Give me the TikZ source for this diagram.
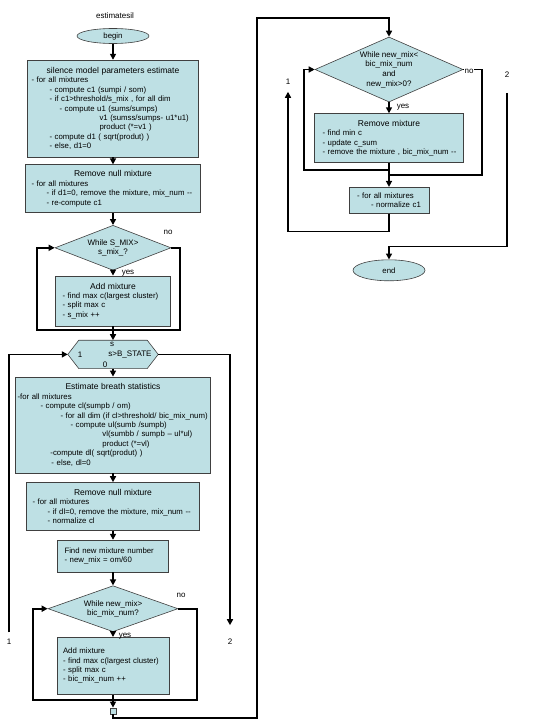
\documentclass[tikz,border=0pt]{standalone}
\usepackage{fontspec}
\setmainfont{Liberation Sans}
\usetikzlibrary{positioning,arrows.meta,shapes.geometric,calc}
\definecolor{BoxFill}{RGB}{190,224,228}
\definecolor{BoxLine}{RGB}{64,64,64}
\newcommand{\boxtitle}[1]{\makebox[\linewidth][c]{\fontsize{8.5}{9.4}\selectfont #1}}
\newcommand{\indentby}[1]{\hspace*{#1pt}}

\begin{document}
\begin{tikzpicture}[x=1pt, y=-1pt,
    every node/.style={font=\fontsize{7.8}{9.4}\selectfont},
    box/.style={rectangle, draw=BoxLine, fill=BoxFill, line width=0.6pt,
                inner sep=0pt, align=left},
    term/.style={ellipse, draw=BoxLine, fill=BoxFill, line width=0.6pt,
                 minimum width=72pt, inner sep=0pt},
    dia/.style={diamond, draw=BoxLine, fill=BoxFill, line width=0.6pt,
                inner sep=0pt, align=center, font=\fontsize{8}{9.6}\selectfont},
    hexline/.style={draw=BoxLine, fill=BoxFill, line width=0.6pt},
    lbl/.style={inner sep=0pt, font=\fontsize{8}{9.4}\selectfont},
    link/.style={line width=1.8pt},
    flow/.style={link, -{Triangle[length=6pt, width=6pt]}}
]
    \useasboundingbox (0,0) rectangle (540,720);

    % left column
    \node[lbl] (title) at (115,16) {estimatesil};
    \node[term, minimum height=15pt] (begin) at (113,36) {begin};
    \node[box, text width=171pt, minimum height=97pt, below=16pt of begin] (silence) {%
        \boxtitle{silence model parameters estimate}\\
        \indentby{4}- for all mixtures\\
        \indentby{22}- compute c1 (sumpi / som)\\
        \indentby{22}- if c1>threshold/s\_mix , for all dim\\
        \indentby{32}- compute u1 (sums/sumps)\\
        \indentby{72}v1 (sumss/sumps- u1*u1)\\
        \indentby{72}product (*=v1 )\\
        \indentby{22}- compute d1 ( sqrt(produt) )\\
        \indentby{22}- else, d1=0};
    \node[box, text width=175pt, minimum height=48pt, below=7pt of silence] (null1) {%
        \boxtitle{Remove null mixture}\\
        \indentby{6}- for all mixtures\\
        \indentby{21}- if d1=0, remove the mixture, mix\_num -{}-\\
        \indentby{21}- re-compute c1};
    \node[dia, aspect=2.58, minimum width=116pt, minimum height=45pt, below=12pt of null1] (smix) {While S\_MIX>\\s\_mix\_?};
    \node[box, text width=115pt, minimum height=50pt, below=5pt of smix] (add1) {%
        \boxtitle{Add mixture}\\
        \indentby{7}- find max c(largest cluster)\\
        \indentby{7}- split max c\\
        \indentby{7}- s\_mix ++};
    \node[minimum width=90pt, minimum height=28pt, inner sep=0pt, below=14pt of add1] (state) {};
    \node[box, text width=195pt, minimum height=96pt, below=8pt of state] (breath) {%
        \boxtitle{Estimate breath statistics}\\
        \indentby{2}-for all mixtures\\
        \indentby{25}- compute cl(sumpb / om)\\
        \indentby{45}- for all dim (if cl>threshold/ bic\_mix\_num)\\
        \indentby{55}- compute ul(sumb /sumpb)\\
        \indentby{87}vl(sumbb / sumpb – ul*ul)\\
        \indentby{87}product (*=vl)\\
        \indentby{35}-compute dl( sqrt(produt) )\\
        \indentby{36}- else, dl=0};
    \node[box, text width=173pt, minimum height=48pt, below=9pt of breath] (null2) {%
        \boxtitle{Remove null mixture}\\
        \indentby{6}- for all mixtures\\
        \indentby{21}- if dl=0, remove the mixture, mix\_num -{}-\\
        \indentby{21}- normalize cl};
    \node[box, text width=111pt, minimum height=32pt, below=9pt of null2] (findnew) {%
        \indentby{7}Find new mixture number\\
        \indentby{7}- new\_mix = om/60};
    \node[dia, aspect=2.83, minimum width=130pt, minimum height=46pt, below=13pt of findnew] (newmix) {While new\_mix>\\bic\_mix\_num?};
    \node[box, text width=112pt, minimum height=57pt, below=5pt of newmix] (add2) {%
        \indentby{6}Add mixture\\
        \indentby{6}- find max c(largest cluster)\\
        \indentby{6}- split max c\\
        \indentby{6}- bic\_mix\_num ++};
    \node[box, minimum width=6pt, minimum height=6pt, below=13pt of add2] (sq) {};

    % hexagon s>B_STATE
    \draw[hexline] (state.west) -- ([xshift=11pt]state.north west)
        -- ([xshift=-11pt]state.north east) -- (state.east)
        -- ([xshift=-11pt]state.south east) -- ([xshift=11pt]state.south west) -- cycle;
    \node[lbl] (hs) at ($(state.center)+(-1,-10.5)$) {s};
    \node[lbl] (hone) at ($(state.center)+(-33,0)$) {1};
    \node[lbl] (htest) at ($(state.center)+(17,0)$) {s>B\_STATE};
    \node[lbl] (hzero) at ($(state.center)+(-8,10.5)$) {0};

    % right column
    \node[dia, aspect=2.28, minimum width=148pt, minimum height=65pt] (bicmix) at (389,69.5)
        {While new\_mix<\\bic\_mix\_num\\and\\new\_mix>0?};
    \node[box, text width=149pt, minimum height=49pt, below=11pt of bicmix] (remove) {%
        \boxtitle{Remove mixture}\\
        \indentby{8}- find min c\\
        \indentby{8}- update c\_sum\\
        \indentby{8}- remove the mixture , bic\_mix\_num -{}-};
    \node[box, text width=80pt, minimum height=26pt, below=24pt of remove] (norm) {%
        \indentby{8}- for all mixtures\\
        \indentby{22}- normalize c1};
    \node[term, minimum height=21pt, below=46pt of norm] (endn) {end};

    % off-page connectors
    \node[lbl, outer ysep=7pt] (off1) at (288,82) {1};
    \node[lbl, outer ysep=15pt] (in2) at (507,75) {2};
    \node[lbl, outer ysep=7pt] (out1) at (9,642) {1};
    \node[lbl, outer ysep=14pt] (out2) at (230,642) {2};

    % junctions
    \coordinate (j1) at ($(add1.south)+(0,4)$);
    \coordinate (j2) at ($(add2.south)+(0,5)$);
    \coordinate (j3) at ($(remove.south)+(0,7)$);
    \coordinate (j4) at ($(norm.north)+(0,-12)$);
    \coordinate (j5) at ($(endn.north)+(0,-13)$);
    \coordinate (j6) at ($(norm.south)+(0,18)$);
    \coordinate (j7) at ($(bicmix.north)+(0,-19)$);

    % connectors, left column
    \draw[flow] (begin) -- (silence);
    \draw[flow] (silence) -- (null1);
    \draw[flow] (null1) -- (smix);
    \draw[flow] (smix) -- (add1);
    \draw[flow] (add1.south) -- (j1) -- ++(-76,0) |- (smix.west);
    \draw[link] (smix.east) -- ++(9,0) |- (j1);
    \draw[flow] (j1) -- (state.north);
    \draw[flow] (state) -- (breath);
    \draw[flow] (breath) -- (null2);
    \draw[flow] (null2) -- (findnew);
    \draw[flow] (findnew) -- (newmix);
    \draw[flow] (newmix) -- (add2);
    \draw[flow] (add2.south) -- (j2) -- ++(-80,0) |- (newmix.west);
    \draw[link] (newmix.east) -- ++(19,0) |- (j2);
    \draw[flow] (j2) -- (sq.north);
    \draw[flow] (out1.north) |- (state.west);
    \draw[flow] (state.east) -| (out2.north);
    \draw[flow] (sq.south) -- ++(0,4) -- ++(144,0) |- (j7) -- (bicmix.north);

    % connectors, right column
    \draw[flow] (bicmix) -- (remove);
    \draw[flow] (remove.south) -- (j3) -- ++(-85,0) |- (bicmix.west);
    \draw[link] (bicmix.east) -- ++(19,0) |- (j4);
    \draw[flow] (j3) -- (norm.north);
    \draw[flow] (norm.south) -- (j6) -| (off1.south);
    \draw[flow] (in2.south) |- (j5) -- (endn.north);

    % branch labels
    \node[lbl] (no1) at (168,232) {no};
    \node[lbl] (yes1) at (128,273) {yes};
    \node[lbl] (no2) at (181,595) {no};
    \node[lbl] (yes2) at (125,636) {yes};
    \node[lbl, fill=white, inner sep=1pt] (no3) at (469,71) {no};
    \node[lbl] (yes3) at (403,107) {yes};
\end{tikzpicture}
\end{document}
